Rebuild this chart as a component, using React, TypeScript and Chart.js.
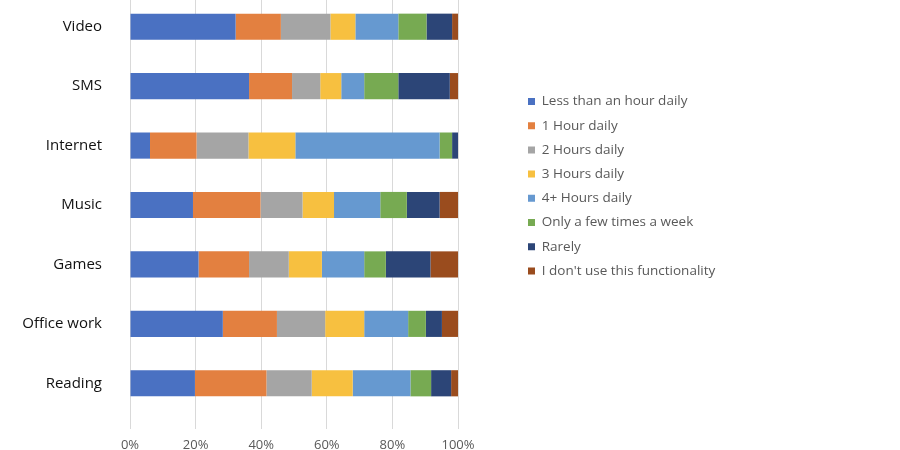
import React, { useEffect, useRef } from "react";
import { Chart, registerables } from "chart.js";

Chart.register(...registerables);

const categories = ["Video", "SMS", "Internet", "Music", "Games", "Office work", "Reading"];

const seriesNames = [
  "Less than an hour daily",
  "1 Hour daily",
  "2 Hours daily",
  "3 Hours daily",
  "4+ Hours daily",
  "Only a few times a week",
  "Rarely",
  "I don't use this functionality",
];

const lessThanHour = [32.2, 36.3, 6.1, 19.2, 20.9, 28.3, 19.8];
const oneHour = [13.8, 13.1, 14.2, 20.6, 15.4, 16.5, 21.8];
const twoHours = [15.1, 8.6, 15.8, 12.8, 12.1, 14.7, 13.8];
const threeHours = [7.6, 6.4, 14.3, 9.6, 10.1, 11.9, 12.5];
const fourPlusHours = [13.1, 7.0, 44.0, 14.1, 12.9, 13.4, 17.6];
const fewTimesWeek = [8.6, 10.4, 3.8, 8.1, 6.6, 5.4, 6.3];
const rarely = [7.8, 15.7, 1.8, 10.0, 13.6, 4.9, 6.1];
const dontUse = [1.8, 2.5, 0, 5.6, 8.4, 4.9, 2.1];

const xTickValues = [0, 20, 40, 60, 80, 100];
const xTickLabels = ["0%", "20%", "40%", "60%", "80%", "100%"];

const seriesValues = [
  lessThanHour,
  oneHour,
  twoHours,
  threeHours,
  fourPlusHours,
  fewTimesWeek,
  rarely,
  dontUse,
];

const seriesColors = [
  "#4A71C2",
  "#E38040",
  "#A5A5A5",
  "#F7C040",
  "#6699D0",
  "#77AA52",
  "#2C4577",
  "#9A4C1E",
];

const FONT = "'Open Sans', 'DejaVu Sans', sans-serif";
const WRAP_TOP = -40;
const WRAP_H = 490;
const LEGEND_PAD = 10.7;
const LEGEND_LEFT = 528 - LEGEND_PAD;
const LEGEND_TOP = 124.05;

const legendPlacer = {
  id: "legendPlacer",
  afterLayout(chart: any) {
    const lg = chart.legend;
    if (!lg) return;
    const w = lg.width;
    lg.left = LEGEND_LEFT;
    lg.right = LEGEND_LEFT + w;
    lg.top = LEGEND_TOP;
    lg.bottom = LEGEND_TOP + 400;
    lg.height = 400;
  },
};

export default function App() {
  const canvasRef = useRef<HTMLCanvasElement | null>(null);

  useEffect(() => {
    if (!canvasRef.current) return;
    const chart = new Chart(canvasRef.current, {
      type: "bar",
      data: {
        labels: categories,
        datasets: seriesNames.map((name, i) => ({
          label: name,
          data: seriesValues[i],
          backgroundColor: seriesColors[i],
          borderWidth: 0,
          barPercentage: 0.44,
          categoryPercentage: 1,
        })),
      },
      plugins: [legendPlacer],
      options: {
        indexAxis: "y",
        animation: false,
        responsive: true,
        maintainAspectRatio: false,
        layout: { padding: { top: 23.8, bottom: 0, left: 0, right: 442 } },
        plugins: {
          tooltip: { enabled: false },
          legend: {
            position: "chartArea",
            align: "start",
            labels: {
              boxWidth: 7,
              boxHeight: 7,
              padding: LEGEND_PAD,
              color: "#595959",
              font: { family: FONT, size: 13.5 },
            },
          },
        },
        scales: {
          x: {
            stacked: true,
            min: 0,
            max: 100,
            afterBuildTicks: (scale: any) => {
              scale.ticks = xTickValues.map((v) => ({ value: v }));
            },
            afterFit: (scale: any) => {
              scale.height = 36.3;
            },
            grid: {
              color: "#d9d9d9",
              lineWidth: 1,
              drawTicks: true,
              tickLength: 16,
            },
            border: { display: false },
            ticks: {
              padding: 8,
              color: "#595959",
              font: { family: FONT, size: 13 },
              maxRotation: 0,
              callback: (v: any) => xTickLabels[xTickValues.indexOf(Number(v))] ?? "",
            },
          },
          y: {
            stacked: true,
            afterFit: (scale: any) => {
              scale.width = 130;
            },
            grid: { display: false, drawTicks: false },
            border: { display: false },
            ticks: {
              padding: 28,
              color: "#111111",
              font: { family: FONT, size: 15 },
            },
          },
        },
      },
    } as any);
    return () => chart.destroy();
  }, []);

  return (
    <div
      style={{
        position: "fixed",
        left: 0,
        top: WRAP_TOP,
        width: 900,
        height: WRAP_H,
        background: "#ffffff",
      }}
    >
      <canvas ref={canvasRef} />
    </div>
  );
}
